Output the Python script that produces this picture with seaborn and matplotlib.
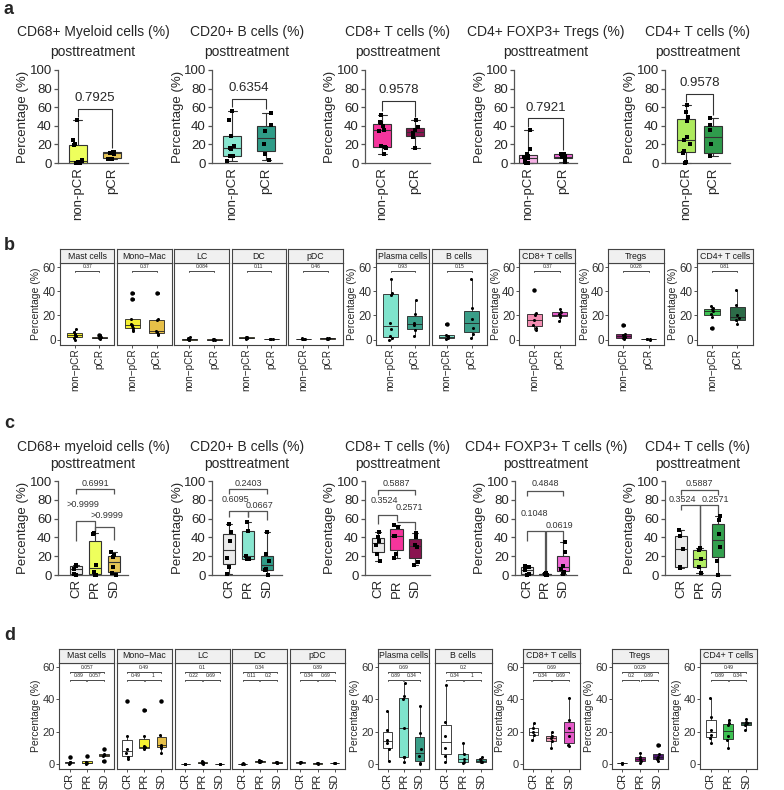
import numpy as np
import pandas as pd
import matplotlib
matplotlib.use("Agg")
import matplotlib.pyplot as plt
import seaborn as sns

# ======================= DATA =======================
# ---- panel a (GraphPad style, non-pCR vs pCR) ----
A_GROUPS = ["non-pCR", "pCR"]
A_TITLES = ["CD68+ Myeloid cells (%)", "CD20+ B cells (%)", "CD8+ T cells (%)",
            "CD4+ FOXP3+ Tregs (%)", "CD4+ T cells (%)"]
A_PVALUES = ["0.7925", "0.6354", "0.9578", "0.7921", "0.9578"]
A_MYELOID = [[0, 0, 0, 1, 2, 3, 19, 20, 25, 46], [4, 4.5, 10, 11, 12, 12]]
A_BCELL = [[2, 7, 8, 15, 16, 18, 29, 46, 56], [3, 10, 20, 34, 41, 54]]
A_CD8 = [[10, 16, 17, 18, 34, 36, 40, 43, 44, 52], [16, 28, 32, 35, 39, 46]]
A_TREG = [[0, 0, 0, 1, 3, 5, 6, 8, 10, 15, 35], [1, 5, 6, 7, 10, 10]]
A_CD4 = [[0, 1, 11, 13, 20, 25, 28, 45, 50, 55, 62], [7, 8, 20, 36, 41, 48]]
A_COLORS = [["#EEFF5C", "#E6C556"], ["#88E6D0", "#2F9C88"], ["#F5359C", "#8A1450"],
            ["#F6B2E6", "#F066D6"], ["#ADEA5E", "#2F9B4C"]]

# ---- panel b (ggplot style, non-pCR vs pCR) ----
B_GROUPS = ["non\u2212pCR", "pCR"]
B_CELLS = ["Mast cells", "Mono\u2212Mac", "LC", "DC", "pDC", "Plasma cells", "B cells",
           "CD8+ T cells", "Tregs", "CD4+ T cells"]
B_PVALUES = ["0.37", "0.37", "0.084", "0.11", "0.46", "0.93", "0.15", "0.37", "0.028", "0.81"]
B_MAST = [[0, 1, 3, 3.5, 4, 5, 6, 9], [0.5, 1, 1.5, 2, 4]]
B_MONO = [[7, 8, 10, 11, 12, 13, 17, 34, 39], [3.5, 5, 6, 7, 16, 17, 39]]
B_LC = [[0, 0, 0.2, 0.5, 1, 2], [0, 0, 0.1, 0.3]]
B_DC = [[0.5, 1, 1.2, 1.5, 2, 2.5], [0.2, 0.4, 0.5, 0.8]]
B_PDC = [[0.2, 0.4, 0.5, 0.7, 0.9], [0.6, 0.8, 1, 1.2]]
B_PLASMA = [[0, 1, 3, 9, 14, 37, 39, 50], [3, 8, 12, 14, 21, 33]]
B_BCELL = [[0.5, 1, 2, 3, 4, 13], [1, 5, 10, 17, 26, 50]]
B_CD8 = [[8, 10, 12, 16, 20, 22, 41], [15, 19, 20, 21, 23, 25]]
B_TREG = [[0.5, 1, 2, 3, 3.5, 5, 12], [0, 0.1, 0.2, 0.3]]
B_CD4 = [[10, 19, 21, 24, 25, 26, 28], [13, 16, 18, 20, 29, 41]]
B_COLORS = [["#F4F032", "#E6BF48"]] * 5 + [["#7FE3CC", "#3A9E88"]] * 2 + \
           [["#F38DB2", "#E45AC8"], ["#8C1A6E", "#5A1470"], ["#3DC152", "#2C6B48"]]

# ---- panel c (GraphPad style, CR / PR / SD) ----
C_GROUPS = ["CR", "PR", "SD"]
C_TITLES = ["CD68+ myeloid cells (%)", "CD20+ B cells (%)", "CD8+ T cells (%)",
            "CD4+ FOXP3+ T cells (%)", "CD4+ T cells (%)"]
C_PVALUES = [["0.6991", ">0.9999", ">0.9999"], ["0.2403", "0.6095", "0.0667"],
             ["0.5887", "0.3524", "0.2571"], ["0.4848", "0.1048", "0.0619"],
             ["0.5887", "0.3524", "0.2571"]]
C_MYELOID = [[0, 1, 6, 10, 11], [0, 0, 3, 11, 44, 45], [0, 2, 8, 19, 21, 24]]
C_BCELL = [[1, 9, 18, 36, 46, 54], [17, 17, 20, 47, 56], [0, 5, 6, 15, 22, 46]]
C_CD8 = [[15, 22, 32, 36, 40, 46], [18, 22, 41, 41, 51, 53], [11, 14, 30, 32, 40, 45]]
C_TREG = [[0, 1, 5, 9, 10], [0, 0.5, 1, 2], [1, 3, 6, 10, 24, 35]]
C_CD4 = [[7, 8, 28, 42, 48], [2, 8, 17, 27, 29], [0, 15, 30, 44, 58, 63]]
C_COLORS = [["#EBEBEB", "#EEFF5C", "#E6C556"], ["#EBEBEB", "#88E6D0", "#2F9C88"],
            ["#EBEBEB", "#F5359C", "#8A1450"], ["#EBEBEB", "#F0C6F0", "#F066D6"],
            ["#EBEBEB", "#B2EE62", "#33A04E"]]

# ---- panel d (ggplot style, CR / PR / SD) ----
D_GROUPS = ["CR", "PR", "SD"]
D_PVALUES = [["0.057", "0.89", "0.057"], ["0.49", "0.49", "1"], ["0.1", "0.22", "0.69"],
             ["0.34", "0.11", "0.2"], ["0.89", "0.34", "0.69"], ["0.69", "0.89", "0.34"],
             ["0.2", "0.34", "1"], ["0.69", "0.34", "0.69"], ["0.029", "0.2", "0.89"],
             ["0.49", "0.89", "0.34"]]
D_MAST = [[0, 0.5, 1, 1.5, 4], [0, 0.5, 1, 5], [2, 5, 5.5, 6, 9]]
D_MONO = [[3, 4, 7, 9, 17, 39], [9, 10, 10.5, 11, 17, 33.5], [7, 10, 11, 12, 18, 39]]
D_LC = [[0, 0.1, 0.2], [0, 0.5, 1, 2], [0, 0.1, 0.2]]
D_DC = [[0.1, 0.2, 0.3], [1, 1.5, 2, 2.2], [0.3, 0.6, 1, 1.2]]
D_PDC = [[0.8, 1, 1.2], [0.2, 0.3, 0.4], [0.4, 0.6, 0.8]]
D_PLASMA = [[2, 9, 13, 15, 21, 33], [1, 4, 4.5, 22, 40, 42, 50], [0, 0.5, 5, 9, 19, 36]]
D_BCELL = [[1, 5, 10, 17, 26, 49], [0.5, 1, 3, 6, 13], [1, 1.5, 2, 3, 4]]
D_CD8 = [[15, 18, 20, 22, 25], [10, 14, 16, 17, 20], [11, 11.5, 17, 22, 27, 41]]
D_TREG = [[0.2, 0.5, 0.8], [0.5, 2, 3, 4, 6.5], [2, 3, 4, 6, 11.5]]
D_CD4 = [[13, 16, 18, 21, 29, 41], [10, 15, 17, 24, 25, 27], [21, 24, 25, 26, 28]]
D_COLORS = [["#FFFFFF", "#F4F032", "#E6BF48"]] * 5 + [["#FFFFFF", "#7FE3CC", "#3A9E88"]] * 2 + \
           [["#FFFFFF", "#F5A3BD", "#E45AC8"], ["#FFFFFF", "#8C1A7A", "#4C1470"],
            ["#FFFFFF", "#3DC152", "#2C6B48"]]

# ======================= STYLE / LAYOUT =======================
sns.set_style("ticks")
plt.rcParams["font.family"] = ["Liberation Sans", "DejaVu Sans"]
np.random.seed(3)

W, H = 784, 790
fig = plt.figure(figsize=(W / 100, H / 100), dpi=100)


def px_axes(left, top, width, height):
    return fig.add_axes([left / W, 1 - (top + height) / H, width / W, height / H])


def long_df(groups, values):
    return pd.DataFrame({"g": np.repeat(groups, [len(v) for v in values]),
                         "v": np.concatenate([np.asarray(v, float) for v in values])})


def graphpad_panel(left, top, width, height, off, sp, box_px, groups, values, colors,
                   title, title_pad, title_ls):
    ax = px_axes(left, top, width, height)
    df = long_df(groups, values)
    sns.boxplot(data=df, x="g", y="v", hue="g", order=groups, hue_order=groups,
                palette=colors, saturation=1, width=box_px / sp, whis=(0, 100),
                showfliers=False, linewidth=0.8, linecolor="#333333", legend=False, ax=ax)
    sns.stripplot(data=df, x="g", y="v", order=groups, color="black", size=2.3,
                  marker="s", jitter=0.14, ax=ax)
    ax.set_xlim(-off / sp, (width - off) / sp)
    ax.set_ylim(0, 100)
    ax.set_yticks([0, 20, 40, 60, 80, 100])
    for s in ["top", "right"]:
        ax.spines[s].set_visible(False)
    for s in ["left", "bottom"]:
        ax.spines[s].set_color("#555555")
        ax.spines[s].set_linewidth(0.9)
    ax.tick_params(axis="y", labelsize=9.5, length=3, width=0.9, color="#555555", pad=1.5)
    ax.tick_params(axis="x", labelsize=9.5, length=0, pad=3, rotation=90)
    ax.set_xlabel("")
    ax.set_ylabel("Percentage (%)", fontsize=9.5, labelpad=0)
    ax.set_title(title + "\nposttreatment", fontsize=10, pad=title_pad, linespacing=title_ls)
    for art in list(ax.collections) + list(ax.lines) + list(ax.patches):
        art.set_clip_on(False)
    return ax


def bracket(ax, x0, x1, y, b0, b1, lw=0.8, color="#333333"):
    ax.plot([x0, x0, x1, x1], [b0, y, y, b1], color=color, lw=lw, clip_on=False,
            solid_capstyle="butt")


def gg_panel(left, right, strip_top, strip_bot, bottom, ylim, groups, values, colors,
             label, box_w, first, xlab_size, ytick_size):
    ax = px_axes(left, strip_bot, right - left, bottom - strip_bot)
    sax = px_axes(left, strip_top, right - left, strip_bot - strip_top)
    df = long_df(groups, values)
    sns.boxplot(data=df, x="g", y="v", hue="g", order=groups, hue_order=groups,
                palette=colors, saturation=1, width=box_w, whis=1.5, showcaps=False,
                fliersize=2.2, linewidth=0.6, linecolor="#222222", legend=False,
                flierprops=dict(marker="o", markerfacecolor="black", markeredgecolor="black"),
                ax=ax)
    sns.stripplot(data=df, x="g", y="v", order=groups, color="black", size=2.2,
                  jitter=0.06, ax=ax)
    ax.set_xlim(-0.6, len(groups) - 0.4)
    ax.set_ylim(*ylim)
    ax.set_yticks([0, 20, 40, 60])
    for s in ax.spines.values():
        s.set_visible(True)
        s.set_color("#444444")
        s.set_linewidth(0.8)
    ax.tick_params(axis="x", labelsize=xlab_size, length=2, width=0.6, pad=1, rotation=90,
                   color="#333333")
    ax.set_xlabel("")
    if first:
        ax.tick_params(axis="y", labelsize=ytick_size, length=2, width=0.6, pad=1,
                       color="#333333", labelcolor="#333333")
        ax.set_ylabel("Percentage (%)", fontsize=7.5, labelpad=1)
    else:
        ax.tick_params(axis="y", left=False, labelleft=False)
        ax.set_ylabel("")
    sax.set_facecolor("#F0F0F0")
    sax.set_xticks([])
    sax.set_yticks([])
    for s in sax.spines.values():
        s.set_visible(True)
        s.set_color("#444444")
        s.set_linewidth(0.8)
    sax.text(0.5, 0.5, label, fontsize=6.3, ha="center", va="center", transform=sax.transAxes,
             color="#1A1A1A")
    return ax


# ======================= PANEL a =======================
A_DATA = [A_MYELOID, A_BCELL, A_CD8, A_TREG, A_CD4]
A_LAYOUT = [(58, 70, 19.7, 34.6), (212, 70, 20, 34.4), (365, 65, 17.3, 32.7),
            (514, 63, 14, 35), (665, 65, 21, 27)]
A_BRACKET_Y = [58, 69, 67, 48, 74]
for i in range(5):
    left, width, off, sp = A_LAYOUT[i]
    ax = graphpad_panel(left, 70, width, 93, off, sp, 18, A_GROUPS, A_DATA[i], A_COLORS[i],
                        A_TITLES[i], 10, 1.55)
    y = A_BRACKET_Y[i]
    bracket(ax, 0, 1, y, max(A_DATA[i][0]) + 4, max(A_DATA[i][1]) + 4)
    ax.text(0.5, y + 11.5, A_PVALUES[i], fontsize=9.5, ha="center", va="center")

# ======================= PANEL b =======================
B_DATA = [B_MAST, B_MONO, B_LC, B_DC, B_PDC, B_PLASMA, B_BCELL, B_CD8, B_TREG, B_CD4]
B_X = [(60, 114.3), (117.3, 171.7), (174, 229.3), (231.7, 286), (288.3, 342.7),
       (376, 429.3), (431.7, 486.7), (519.3, 575), (608.3, 664), (696.7, 752.7)]
B_FIRST = [True, False, False, False, False, True, False, True, True, True]
for i in range(10):
    l, r = B_X[i]
    ax = gg_panel(l, r, 249.3, 263.3, 344.5, (-4.1, 63.3), B_GROUPS, B_DATA[i], B_COLORS[i],
                  B_CELLS[i], 0.6, B_FIRST[i], 7.2, 8.4)
    ax.plot([0, 0, 1, 1], [56.2, 57, 57, 56.2], color="black", lw=0.5)
    ax.text(0.5, 58.2, B_PVALUES[i], fontsize=3.6, ha="center", va="bottom")

# ======================= PANEL c =======================
C_DATA = [C_MYELOID, C_BCELL, C_CD8, C_TREG, C_CD4]
C_LAYOUT = [(58, 70, 18, 19), (212, 70, 17, 19), (365, 65, 13, 18.5), (515, 62, 12, 18),
            (665, 65, 16, 18.5)]
C_BRACKETS = [
    [(0, 2, 91, 86, 86), (0, 1, 57, 36, 47), (1, 2, 51, 47, 37)],
    [(0, 2, 91, 86, 86), (0, 1, 68, 62, 62), (1, 2, 68, 62, 58)],
    [(0, 2, 90, 85, 85), (0, 1, 64, 54, 57), (1, 2, 56, 56, 48)],
    [(0, 2, 89, 84, 84), (0, 1, 47, 36, 4), (1.05, 2, 47, 4, 36)],
    [(0, 2, 90, 85, 85), (0, 1, 74, 69, 30), (1, 2, 74, 30, 65)],
]
C_TEXTPOS = [
    [(1.03, 97), (0.37, 75), (1.65, 63)],
    [(1.0, 97), (0.34, 80), (1.63, 74)],
    [(1.0, 97), (0.36, 79), (1.68, 72)],
    [(1.0, 97), (0.43, 65), (1.82, 53)],
    [(1.0, 97), (0.1, 80), (1.84, 80)],
]
for i in range(5):
    left, width, off, sp = C_LAYOUT[i]
    ax = graphpad_panel(left, 481, width, 94, off, sp, 12.5, C_GROUPS, C_DATA[i], C_COLORS[i],
                        C_TITLES[i], 9.5, 1.3)
    for (x0, x1, y, b0, b1) in C_BRACKETS[i]:
        bracket(ax, x0, x1, y, b0, b1, lw=0.9, color="#555555")
    for k, (tx, ty) in enumerate(C_TEXTPOS[i]):
        ax.text(tx, ty, C_PVALUES[i][k], fontsize=6.5, ha="center", va="center", color="#333333")

# ======================= PANEL d =======================
D_DATA = [D_MAST, D_MONO, D_LC, D_DC, D_PDC, D_PLASMA, D_BCELL, D_CD8, D_TREG, D_CD4]
D_X = [(59.3, 114.3), (116.7, 171.7), (175, 230), (232.3, 287.3), (290, 345),
       (378.3, 429.3), (435, 491.7), (522.7, 580), (611.7, 668.3), (700, 756.7)]
D_FIRST = [True, False, False, False, False, True, False, True, True, True]
for i in range(10):
    l, r = D_X[i]
    ax = gg_panel(l, r, 649.3, 662.7, 769, (-3.1, 62.5), D_GROUPS, D_DATA[i], D_COLORS[i],
                  B_CELLS[i], 0.55, D_FIRST[i], 8, 8)
    ax.plot([0, 0, 2, 2], [56.3, 57, 57, 56.3], color="black", lw=0.5)
    ax.plot([0, 0, 0.96, 0.96], [51.3, 52, 52, 51.3], color="black", lw=0.5)
    ax.plot([1.04, 1.04, 2, 2], [51.3, 52, 52, 51.3], color="black", lw=0.5)
    ax.text(1, 58.0, D_PVALUES[i][0], fontsize=3.6, ha="center", va="bottom")
    ax.text(0.5, 53.0, D_PVALUES[i][1], fontsize=3.6, ha="center", va="bottom")
    ax.text(1.5, 53.0, D_PVALUES[i][2], fontsize=3.6, ha="center", va="bottom")

# ======================= panel letters =======================
for letter, ypx in [("a", 10), ("b", 245), ("c", 423), ("d", 636)]:
    fig.text(4 / W, 1 - ypx / H, letter, fontsize=13, fontweight="bold", ha="left", va="center")

fig.savefig("out.png", dpi=100)
